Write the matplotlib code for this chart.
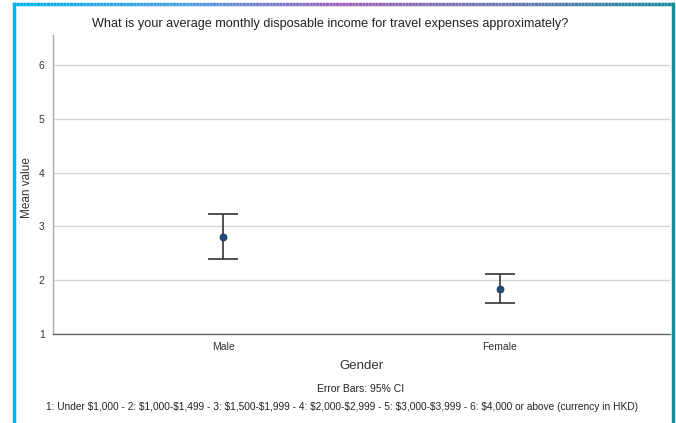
import numpy as np
import matplotlib
matplotlib.use("Agg")
import matplotlib.pyplot as plt
from matplotlib.collections import LineCollection
from matplotlib.colors import LinearSegmentedColormap

plt.rcParams['font.family'] = ['Liberation Sans', 'DejaVu Sans']
plt.rcParams['text.parse_math'] = False

categories = ["Male", "Female"]
means = [2.81, 1.84]
ci_low = [2.39, 1.57]
ci_high = [3.23, 2.11]
yticks = [1, 2, 3, 4, 5, 6]

W, H = 676, 423
fig = plt.figure(figsize=(W / 100, H / 100), dpi=100)
ax = fig.add_axes([53 / W, 1 - 334 / H, (670 - 53) / W, (334 - 35) / H])

x = np.arange(len(categories))
m = np.array(means)
yerr = np.vstack([m - np.array(ci_low), np.array(ci_high) - m])
ax.errorbar(x, m, yerr=yerr, fmt='none', ecolor='#333333', elinewidth=1.2,
            capsize=11, capthick=1.2, zorder=3)
ax.plot(x, m, 'o', color='#1f4e79', markersize=5, markeredgecolor='#17375e',
        markeredgewidth=0.6, zorder=4)

ax.set_xlim(-0.616, 1.616)
ax.set_ylim(1, 6.56)
ax.set_yticks(yticks)
ax.set_yticklabels([str(v) for v in yticks], fontsize=7.5, color='#333333')
ax.set_xticks(x)
ax.set_xticklabels(categories, fontsize=7.5, color='#333333')
ax.tick_params(axis='both', length=0, pad=6)
ax.grid(axis='y', color='#d4d4d4', linewidth=1)
ax.set_axisbelow(True)
for s in ['top', 'right']:
    ax.spines[s].set_visible(False)
ax.spines['left'].set_color('#aaaaaa')
ax.spines['bottom'].set_color('#666666')
ax.spines['left'].set_linewidth(1)
ax.spines['bottom'].set_linewidth(1)

fig.text(27 / W, 1 - 188 / H, "Mean value", rotation=90, ha='center', va='center',
         fontsize=8.5, color='#333333')

fig.text(330 / W, 1 - 24 / H,
         "What is your average monthly disposable income for travel expenses approximately?",
         ha='center', va='center', fontsize=9.1, color='#222222')
fig.text(361 / W, 1 - 366 / H, "Gender", ha='center', va='center', fontsize=9.5, color='#333333')
fig.text(361 / W, 1 - 389 / H, "Error Bars: 95% CI", ha='center', va='center', fontsize=7.5, color='#222222')
fig.text(342 / W, 1 - 407 / H,
         "1: Under $1,000 - 2: $1,000-$1,499 - 3: $1,500-$1,999 - 4: $2,000-$2,999 - 5: $3,000-$3,999 - 6: $4,000 or above (currency in HKD)",
         ha='center', va='center', fontsize=7.3, color='#222222')

# frame border
fig.add_artist(plt.Line2D([14 / W, 14 / W], [0, 1 - 4 / H], transform=fig.transFigure,
                          color='#00b0f0', linewidth=2.5))
fig.add_artist(plt.Line2D([673 / W, 673 / W], [0, 1 - 4 / H], transform=fig.transFigure,
                          color='#178a9b', linewidth=2.5))
cmap = LinearSegmentedColormap.from_list('g', ['#00b0f0', '#4aa0e0', '#a062b8', '#6a7ab0', '#178a9b'])
xs = np.linspace(13 / W, 674 / W, 200)
segs = [[(xs[i], 1 - 4 / H), (xs[i + 1], 1 - 4 / H)] for i in range(len(xs) - 1)]
lc = LineCollection(segs, colors=[cmap(i / (len(segs) - 1)) for i in range(len(segs))],
                    linewidths=2.5, transform=fig.transFigure)
fig.add_artist(lc)

fig.savefig("out.png", dpi=100)
